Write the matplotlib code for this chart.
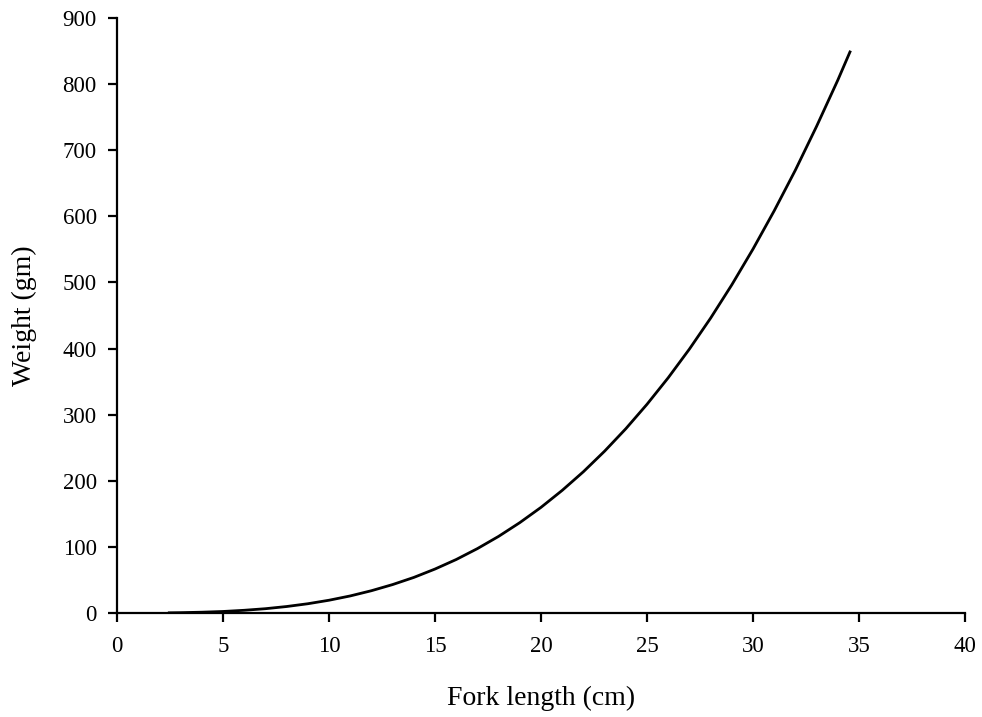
import matplotlib
matplotlib.use("Agg")
import matplotlib.pyplot as plt

# Fork length (cm) and weight (gm)
length_cm = [2.4, 3, 4, 5, 6, 7, 8, 9, 10, 11, 12, 13, 14, 15, 16, 17, 18, 19, 20,
             21, 22, 23, 24, 25, 26, 27, 28, 29, 30, 31, 32, 33, 34, 34.6]
weight_gm = [0.25, 0.5, 1.2, 2.3, 4.1, 6.5, 9.8, 14.0, 19.3, 25.8, 33.7, 43.0, 53.8,
             66.5, 80.9, 97.4, 115.9, 136.7, 159.8, 185.5, 213.7, 244.8, 278.7,
             315.7, 355.8, 399.2, 446.0, 496.4, 550.5, 608.4, 670.0, 736.2, 806.0, 850.6]

x_ticks = [0, 5, 10, 15, 20, 25, 30, 35, 40]
y_ticks = [0, 100, 200, 300, 400, 500, 600, 700, 800, 900]

plt.rcParams['font.family'] = ['Liberation Serif', 'DejaVu Serif']

fig = plt.figure(figsize=(9.82, 7.17), dpi=100)
ax = fig.add_axes([117/982, (717-613)/717, (965-117)/982, (613-18)/717])

ax.plot(length_cm, weight_gm, color='black', lw=2.0, solid_capstyle='butt')

ax.set_xlim(0, 40)
ax.set_ylim(0, 900)
ax.set_xticks(x_ticks)
ax.set_yticks(y_ticks)
ax.spines['top'].set_visible(False)
ax.spines['right'].set_visible(False)
for s in ('left', 'bottom'):
    ax.spines[s].set_linewidth(1.6)
ax.tick_params(direction='out', length=6.5, width=1.6, labelsize=16.5)
ax.tick_params(axis='x', pad=10)
ax.tick_params(axis='y', pad=8)
ax.set_xlabel('Fork length (cm)', fontsize=20)
ax.set_ylabel('Weight (gm)', fontsize=20)
ax.xaxis.set_label_coords(0.5, -0.122)
ax.yaxis.set_label_coords(-0.094, 0.5)

fig.savefig('out.png', dpi=100)
